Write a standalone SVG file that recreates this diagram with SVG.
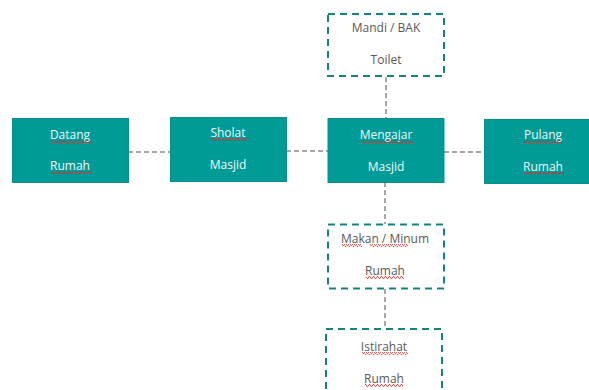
<svg xmlns="http://www.w3.org/2000/svg" width="589" height="390" viewBox="0 0 589 390">
<defs>
<style>
.solid{fill:#009a97;stroke:#0a8f8b;stroke-width:1}
.dash{fill:#ffffff;stroke:#12837e;stroke-width:2;stroke-dasharray:7 5}
.conn{stroke:#a6a6a6;stroke-width:2;stroke-dasharray:5 3;fill:none}
.tw{font-family:"Open Sans","Liberation Sans",sans-serif;font-size:12px;fill:#eef8f8;text-anchor:middle}
.tg{font-family:"Open Sans","Liberation Sans",sans-serif;font-size:12px;fill:#595959;text-anchor:middle}
.sq{fill:url(#wave)}
</style>
<pattern id="wave" width="4" height="3" patternUnits="userSpaceOnUse">
<path d="M0 2.5 L1 0.5 L2 0.5 L3 2.5 L4 2.5" stroke="#d23030" stroke-width="0.8" fill="none"/>
</pattern>
</defs>
<rect width="589" height="390" fill="#ffffff"/>
<g id="connectors">
<line class="conn" x1="128" y1="152" x2="170" y2="152"/>
<line class="conn" x1="286" y1="151" x2="328" y2="151"/>
<line class="conn" x1="444" y1="152" x2="484" y2="152"/>
<line class="conn" x1="386" y1="77" x2="386" y2="118"/>
<line class="conn" x1="385" y1="182" x2="385" y2="224"/>
<line class="conn" x1="385" y1="289" x2="385" y2="329"/>
</g>
<g id="datang">
<rect class="solid" x="12.5" y="118.5" width="116" height="64"/>
<text class="tw" x="70" y="139">Datang</text>
<text class="tw" x="70" y="170">Rumah</text>
<rect class="sq" x="51" y="140" width="40" height="3"/>
<rect class="sq" x="51" y="171" width="40" height="3"/>
</g>
<g id="sholat">
<rect class="solid" x="170.5" y="117.5" width="116" height="64"/>
<text class="tw" x="228" y="137">Sholat</text>
<text class="tw" x="228" y="169">Masjid</text>
<rect class="sq" x="211" y="138" width="36" height="3"/>
</g>
<g id="mengajar">
<rect class="solid" x="328" y="118.5" width="116" height="64"/>
<text class="tw" x="386" y="139">Mengajar</text>
<text class="tw" x="386" y="171">Masjid</text>
<rect class="sq" x="361" y="140" width="52" height="3"/>
</g>
<g id="pulang">
<rect class="solid" x="484.5" y="119.5" width="116" height="64"/>
<text class="tw" x="543" y="139">Pulang</text>
<text class="tw" x="543" y="171">Rumah</text>
<rect class="sq" x="524" y="140" width="38" height="3"/>
<rect class="sq" x="524" y="172" width="40" height="3"/>
</g>
<g id="mandi">
<rect class="dash" x="328" y="14" width="116" height="62"/>
<text class="tg" x="386" y="32">Mandi / BAK</text>
<text class="tg" x="386" y="64">Toilet</text>
</g>
<g id="makan">
<rect class="dash" x="328" y="224.5" width="116" height="64"/>
<text class="tg" x="385" y="243">Makan / Minum</text>
<text class="tg" x="385" y="275">Rumah</text>
<rect class="sq" x="342" y="244" width="20" height="3"/>
<rect class="sq" x="370" y="244" width="38" height="3"/>
<rect class="sq" x="366" y="276" width="38" height="3"/>
</g>
<g id="istirahat">
<rect class="dash" x="326" y="329" width="116" height="70"/>
<text class="tg" x="384" y="351">Istirahat</text>
<text class="tg" x="384" y="383">Rumah</text>
<rect class="sq" x="362" y="352" width="46" height="3"/>
<rect class="sq" x="365" y="384" width="38" height="3"/>
</g>
</svg>
